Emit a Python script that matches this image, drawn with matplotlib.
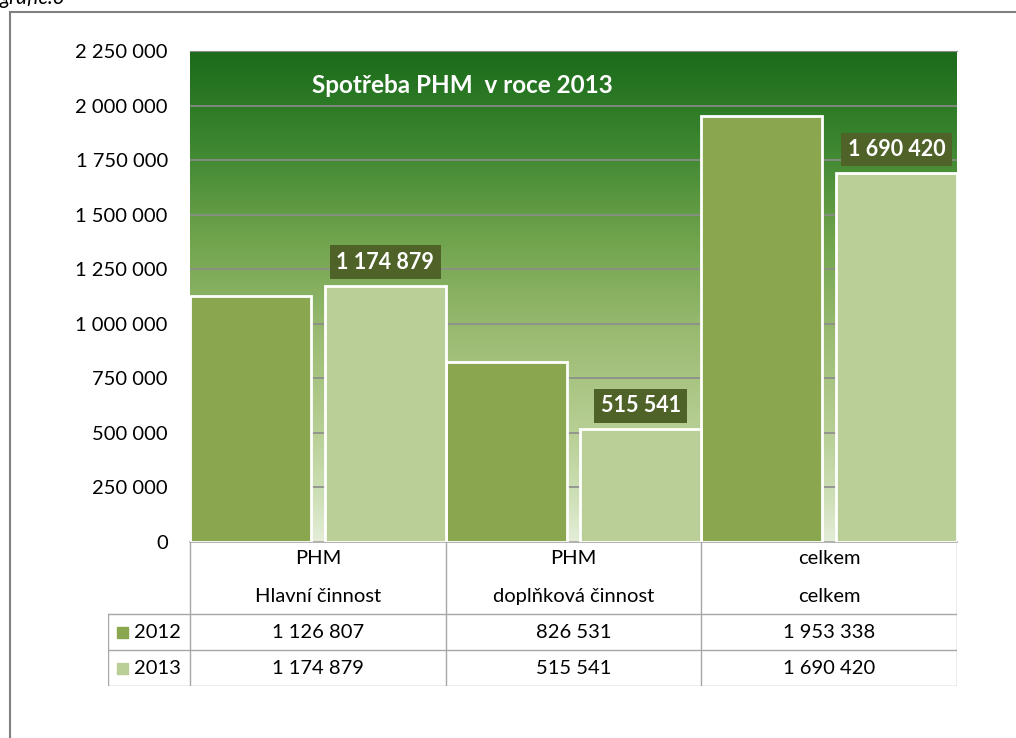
import numpy as np
import matplotlib
matplotlib.use('Agg')
import matplotlib.pyplot as plt
from matplotlib.colors import LinearSegmentedColormap
from matplotlib.patches import Rectangle

plt.rcParams['font.family'] = ['Lato', 'DejaVu Sans']

categories_top = ['PHM', 'PHM', 'celkem']
categories_bottom = ['Hlavní činnost', 'doplňková činnost', 'celkem']
years = ['2012', '2013']
values_2012 = [1126807, 826531, 1953338]
values_2013 = [1174879, 515541, 1690420]
y_ticks = [0, 250000, 500000, 750000, 1000000, 1250000, 1500000, 1750000, 2000000, 2250000]
title = 'Spotřeba PHM  v roce 2013'

c2012 = '#8aa64e'
c2013 = '#bacf97'
grid_c = '#8c8c8c'
line_c = '#a6a6a6'
fs = 14.5


def fmt(v):
    return f'{v:,}'.replace(',', ' ')


W, H = 1016, 738
fig = plt.figure(figsize=(W / 100, H / 100), dpi=100)

# outer frame and caption (cut off at the top like the source)
fig.add_artist(Rectangle((10 / W, -0.1), 1.2, (H - 12) / H + 0.1, transform=fig.transFigure,
                         fill=False, edgecolor='#808080', lw=1.5))
fig.text(0, (H - 4) / H, 'grafic.3', fontsize=15, style='italic', va='baseline', ha='left')

x0, x1, y0, y1 = 190, 957, 542, 51
ax = fig.add_axes([x0 / W, (H - y0) / H, (x1 - x0) / W, (y0 - y1) / H])
ax.set_xlim(0, 3)
ax.set_ylim(0, 2250000)

# gradient background
stops = [(0.0, '#e4edd8'), (0.08, '#d0e1ba'), (0.22, '#b8cf95'), (0.42, '#9bbb72'),
         (0.62, '#6fa34c'), (0.82, '#3a852e'), (1.0, '#1b6b1b')]
cmap = LinearSegmentedColormap.from_list('bg', stops)
grad = np.linspace(0, 1, 256).reshape(-1, 1)
ax.imshow(grad, aspect='auto', cmap=cmap, origin='lower',
          extent=[0, 3, 0, 2250000], zorder=0)

for t in y_ticks[1:]:
    ax.axhline(t, color=grid_c, lw=1.2, zorder=1)

x = np.arange(3)
bw = 0.473
ax.bar(x, values_2012, width=bw, align='edge', color=c2012, edgecolor='white', lw=2, zorder=3)
ax.bar(x + 1 - bw, values_2013, width=bw, align='edge', color=c2013, edgecolor='white', lw=2, zorder=3)

for xi, v in zip(x + 1 - bw / 2, values_2013):
    ax.annotate(fmt(v), (xi, v), xytext=(0, 17), textcoords='offset points',
                ha='center', va='center', color='white', fontsize=15.5, fontweight='bold',
                bbox=dict(boxstyle='square,pad=0.3', fc='#4f6228', ec='none'), zorder=5)

ax.text(0.477, 2094000, title, ha='left', va='center', color='white',
        fontsize=17.5, fontweight='bold', zorder=5)

ax.set_yticks(y_ticks)
ax.set_yticklabels([fmt(t) for t in y_ticks], fontsize=fs)
ax.tick_params(axis='y', length=0, pad=16)
ax.set_xticks([])
for s in ['left', 'right']:
    ax.spines[s].set_visible(False)
ax.spines['top'].set_color(grid_c)
ax.spines['bottom'].set_color(line_c)
ax.spines['bottom'].set_linewidth(1.2)

# data table below the plot
tx0, ty0, ty1 = 108, 686, 542
tab = fig.add_axes([tx0 / W, (H - ty0) / H, (x1 - tx0) / W, (ty0 - ty1) / H])
left = -(x0 - tx0) / ((x1 - x0) / 3)
tab.set_xlim(left, 3)
tab.set_ylim(ty0, ty1)
tab.axis('off')

row_h = [ty1, 614, 650, ty0]
for xb in [0, 1, 2, 3]:
    tab.plot([xb, xb], [ty1, ty0], color=line_c, lw=1)
tab.plot([left, left], [row_h[1], ty0], color=line_c, lw=1)
for yb in row_h[1:]:
    tab.plot([left, 3], [yb, yb], color=line_c, lw=1)

for i in range(3):
    tab.text(i + 0.5, 558, categories_top[i], ha='center', va='center', fontsize=fs)
    tab.text(i + 0.5, 596, categories_bottom[i], ha='center', va='center', fontsize=fs)
    tab.text(i + 0.5, 632, fmt(values_2012[i]), ha='center', va='center', fontsize=fs)
    tab.text(i + 0.5, 668, fmt(values_2013[i]), ha='center', va='center', fontsize=fs)

for yc, yr, col in zip([632, 668], years, [c2012, c2013]):
    tab.add_patch(Rectangle((left + 0.035, yc - 5.5), 0.043, 11, color=col))
    tab.text(left + 0.1, yc, yr, ha='left', va='center', fontsize=fs)

fig.savefig('out.png', dpi=100)
